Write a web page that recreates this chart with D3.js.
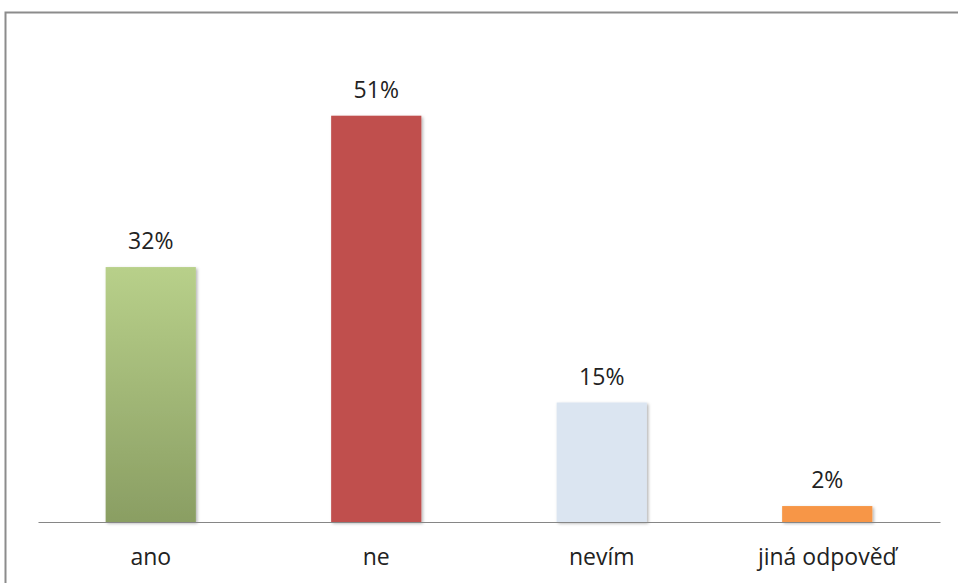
<!DOCTYPE html>
<html>
<head>
<meta charset="utf-8">
<script src="https://cdn.jsdelivr.net/npm/d3@7"></script>
<style>
  html, body { margin: 0; padding: 0; background: #fff; }
  svg { display: block; }
</style>
</head>
<body>
<svg id="chart" width="958" height="583"></svg>
<script>
// Survey answers and their shares (%)
const categories = ["ano", "ne", "nevím", "jiná odpověď"];
const values = [32, 51, 15, 2];
const valueLabels = ["32%", "51%", "15%", "2%"];
const fills = ["url(#gradAno)", "#c0504d", "#dbe5f1", "#f79646"];

const svg = d3.select("#chart");
const W = 958, H = 583;
const margin = { left: 38, right: 18, top: 44, bottom: 61 };
const FONT = "'Open Sans', 'Noto Sans', sans-serif";

const defs = svg.append("defs");
const g1 = defs.append("linearGradient")
  .attr("id", "gradAno").attr("x1", 0).attr("y1", 0).attr("x2", 0).attr("y2", 1);
g1.append("stop").attr("offset", "0%").attr("stop-color", "#b8d08a");
g1.append("stop").attr("offset", "100%").attr("stop-color", "#8a9e63");

const shadow = defs.append("filter").attr("id", "shadow")
  .attr("x", "-10%").attr("y", "-10%").attr("width", "130%").attr("height", "130%");
shadow.append("feDropShadow")
  .attr("dx", 1.5).attr("dy", 1.5).attr("stdDeviation", 1.5)
  .attr("flood-color", "#000").attr("flood-opacity", 0.3);

// outer frame
svg.append("rect")
  .attr("x", 5.5).attr("y", 12.5).attr("width", W + 20).attr("height", H + 20)
  .attr("fill", "none").attr("stroke", "#8c8c8c").attr("stroke-width", 2);

const x = d3.scaleBand()
  .domain(categories)
  .range([margin.left, W - margin.right])
  .paddingInner(0.6).paddingOuter(0.3);

const y = d3.scaleLinear()
  .domain([0, 60])
  .range([H - margin.bottom, margin.top]);

const data = categories.map((c, i) => ({ c, v: values[i], label: valueLabels[i], fill: fills[i] }));

svg.append("g").selectAll("rect")
  .data(data).join("rect")
  .attr("x", d => x(d.c))
  .attr("y", d => y(d.v))
  .attr("width", x.bandwidth())
  .attr("height", d => y(0) - y(d.v))
  .attr("fill", d => d.fill)
  .attr("filter", "url(#shadow)");

// baseline with category names
const axis = svg.append("g")
  .attr("transform", `translate(0,${y(0)})`)
  .call(d3.axisBottom(x).tickSize(0));
axis.select(".domain").attr("stroke", "#868686").attr("stroke-width", 1.2);
axis.selectAll("text")
  .attr("y", 43).attr("dy", 0)
  .attr("font-family", FONT)
  .attr("font-size", 23).attr("fill", "#222");

// value labels
svg.append("g").selectAll("text")
  .data(data).join("text")
  .attr("x", d => x(d.c) + x.bandwidth() / 2)
  .attr("y", d => y(d.v) - 18)
  .attr("text-anchor", "middle")
  .attr("font-family", FONT)
  .attr("font-size", 23).attr("fill", "#222")
  .text(d => d.label);
</script>
</body>
</html>
